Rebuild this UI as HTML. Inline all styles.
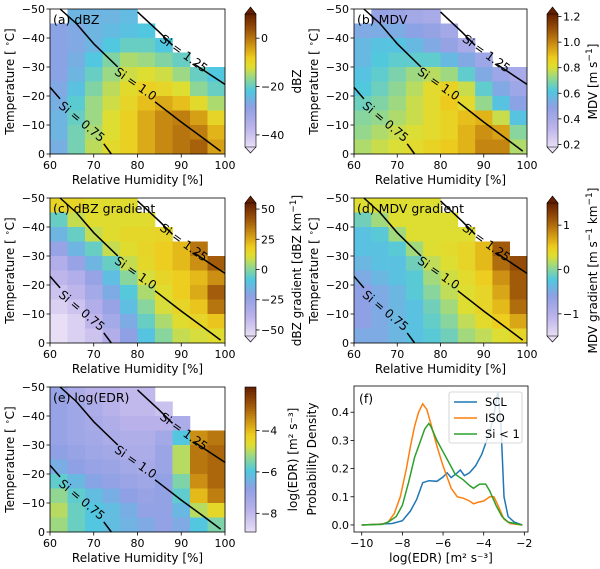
<!DOCTYPE html>
<html><head><meta charset="utf-8"><style>
body{margin:0;background:#fff}
svg{display:block;font-family:"DejaVu Sans","Liberation Sans",sans-serif}
</style></head><body>
<svg id="fig" width="600" height="569" viewBox="0 0 600 569" xmlns="http://www.w3.org/2000/svg"></svg>
<script>
// ---- data ----
const rhEdges = [60,64,68,72,76,80,84,88,92,96,100];
const tEdges = [-50,-45,-40,-35,-30,-25,-20,-15,-10,-5,0];
const dbzGrid = [
[null,-25,-25,-25,-24,null,null,null,null,null],
[-28,-27,-25,-24,-23,-22,null,null,null,null],
[-28,-27,-25,-22,-20,-20,-22,null,null,null],
[-28,-26,-22,-18,-15,-16,-18,-20,null,null],
[-28,-25,-20,-16,-13,-12,-13,-16,-20,-22],
[-27,-23,-18,-14,-11,-9,-10,-12,-17,-20],
[-26,-21,-16,-13,-10,-7,-5,-7,-11,-15],
[-25,-20,-16,-12,-9,-5,-2,-1,-4,-10],
[-25,-19,-15,-12,-9,-5,-2,0,-1,-6],
[-26,-19,-14,-11,-9,-5,-2,0,2,-4]];
const mdvGrid = [
[null,0.47,0.45,0.42,0.4,null,null,null,null,null],
[0.52,0.53,0.53,0.5,0.47,0.42,null,null,null,null],
[0.57,0.6,0.6,0.57,0.52,0.47,0.4,null,null,null],
[0.57,0.62,0.64,0.64,0.64,0.57,0.52,0.44,null,null],
[0.6,0.64,0.68,0.73,0.76,0.73,0.64,0.52,0.44,0.4],
[0.62,0.66,0.71,0.76,0.82,0.85,0.78,0.64,0.52,0.44],
[0.66,0.69,0.73,0.78,0.82,0.88,0.82,0.72,0.6,0.5],
[0.7,0.72,0.75,0.78,0.82,0.85,0.9,0.92,0.78,0.6],
[0.72,0.75,0.78,0.8,0.82,0.85,0.92,0.98,0.95,0.7],
[0.75,0.78,0.8,0.82,0.85,0.88,0.92,1.0,1.0,0.75]];
const dbzGradGrid = [
[15,15,12,12,12,null,null,null,null,null],
[-5,8,12,12,12,12,null,null,null,null],
[-15,-5,8,12,14,14,15,null,null,null],
[-25,-15,-5,8,12,15,18,22,35,null],
[-35,-25,-15,-5,8,14,18,22,30,40],
[-40,-35,-25,-12,0,10,15,18,22,30],
[-45,-40,-30,-18,-8,5,12,18,25,40],
[-50,-45,-35,-25,-12,0,10,15,20,35],
[-55,-50,-40,-30,-18,-5,5,12,15,20],
[-55,-50,-45,-35,-22,-10,0,8,10,12]];
const mdvGradGrid = [
[0.3,0.3,0.3,0.3,0.3,null,null,null,null,null],
[-0.1,0.1,0.3,0.3,0.3,0.3,null,null,null,null],
[-0.3,-0.2,0.1,0.3,0.3,0.3,0.3,null,null,null],
[-0.3,-0.3,-0.2,0.1,0.3,0.35,0.4,0.6,1.1,null],
[-0.4,-0.3,-0.3,-0.1,0.2,0.3,0.4,0.6,1.0,1.2],
[-0.5,-0.4,-0.3,-0.2,0.1,0.25,0.35,0.5,0.8,1.1],
[-0.6,-0.5,-0.4,-0.2,0.0,0.2,0.3,0.4,0.7,1.1],
[-0.6,-0.5,-0.4,-0.3,-0.1,0.1,0.3,0.4,0.6,1.0],
[-0.6,-0.5,-0.4,-0.3,-0.15,0.0,0.2,0.35,0.5,0.7],
[-0.5,-0.5,-0.4,-0.3,-0.2,-0.1,0.1,0.2,0.3,0.4]];
const edrGrid = [
[-7,-7.5,-7.8,-7.8,-8,-8,null,null,null,null],
[-7,-7.2,-7.5,-7.8,-8,-8,-8.2,null,null,null],
[-7,-7.2,-7.4,-7.6,-7.8,-7.8,-7.8,-7.5,null,null],
[-7,-7.2,-7.3,-7.5,-7.6,-7.6,-7.3,-6,-3.5,-3.2],
[-6.8,-7,-7.2,-7.3,-7.5,-7.5,-7.1,-5,-3.2,-3],
[-6.5,-6.8,-7,-7.1,-7.3,-7.4,-7.1,-5,-3.2,-3],
[-5.8,-6.3,-6.7,-6.9,-7.1,-7.2,-6.9,-5.5,-3.5,-3],
[-5.3,-5.8,-6.2,-6.5,-6.8,-7,-6.9,-5.8,-4,-3.3],
[-5,-5.7,-6,-6.2,-6.5,-6.9,-6.9,-6.3,-5,-4.5],
[-5.2,-5.7,-6,-6.2,-6.4,-6.6,-6.9,-6.6,-6,-5.5]];
// Si isolines (RH, T)
const si100a = [[62.3,-50],[66,-45],[70,-38],[75.5,-30]];
const si100b = [[84,-18],[90,-11],[95,-5.5],[99,-1]];
const si125a = [[80,-49],[85,-42],[88,-37.5]];
const si125b = [[93,-31],[97,-27],[100,-24]];
const si075a = [[60,-23],[62.3,-19]];
const si075b = [[72.3,-3.5],[74,0]];
// PDF panel (f)
const sclX = [-10,-8.5,-8,-7.6,-7.3,-7.0,-6.7,-6.3,-6.0,-5.8,-5.6,-5.3,-5.15,-4.95,-4.7,-4.4,-4.1,-3.9,-3.7,-3.5,-3.3,-3.15,-3.0,-2.8,-2.5,-2.1];
const sclY = [0,0.005,0.015,0.05,0.09,0.15,0.157,0.155,0.17,0.185,0.168,0.185,0.195,0.175,0.185,0.21,0.25,0.29,0.33,0.39,0.47,0.35,0.1,0.03,0.01,0];
const isoX = [-10,-9,-8.7,-8.4,-8.1,-7.8,-7.6,-7.4,-7.2,-7.0,-6.8,-6.6,-6.3,-6.0,-5.8,-5.6,-5.3,-5.0,-4.7,-4.5,-4.3,-4.0,-3.7,-3.5,-3.3,-3.0,-2.7,-2.1];
const isoY = [0,0.003,0.01,0.04,0.1,0.2,0.28,0.35,0.4,0.43,0.41,0.36,0.28,0.21,0.17,0.13,0.1,0.095,0.085,0.075,0.08,0.085,0.1,0.1,0.07,0.02,0.005,0];
const siX = [-10,-9,-8.7,-8.3,-8.0,-7.7,-7.4,-7.1,-6.9,-6.7,-6.6,-6.3,-6.0,-5.7,-5.4,-5.0,-4.7,-4.5,-4.2,-3.9,-3.7,-3.4,-3.1,-2.8,-2.1];
const siY = [0,0.002,0.01,0.03,0.07,0.15,0.24,0.3,0.34,0.36,0.35,0.3,0.26,0.22,0.18,0.16,0.14,0.13,0.145,0.145,0.12,0.07,0.03,0.01,0];
const pdfXTicks = [-10,-8,-6,-4,-2];
const pdfYTicks = [0.0,0.1,0.2,0.3,0.4];

// ---- helpers ----
const NS="http://www.w3.org/2000/svg";
const svg=document.getElementById('fig');
function mk(tag,attrs,parent){const e=document.createElementNS(NS,tag);for(const k in attrs)e.setAttribute(k,attrs[k]);(parent||svg).appendChild(e);return e;}
function txt(s,attrs,parent){const e=mk('text',attrs,parent);e.textContent=s;return e;}
const stops=[[0,[232,222,246]],[0.15,[186,178,234]],[0.3,[143,160,228]],[0.42,[80,200,224]],[0.52,[150,216,140]],[0.6,[222,222,50]],[0.67,[238,204,30]],[0.76,[208,150,20]],[0.87,[160,88,10]],[1,[100,30,0]]];
function cmap(t){t=Math.max(0,Math.min(1,t));for(let i=1;i<stops.length;i++){if(t<=stops[i][0]){const a=stops[i-1],b=stops[i];const f=(t-a[0])/(b[0]-a[0]);const c=a[1].map((v,j)=>Math.round(v+(b[1][j]-v)*f));return `rgb(${c[0]},${c[1]},${c[2]})`;}}return 'rgb(100,30,0)';}

function heatPanel(cfg){
  const {x0,y0,w,h,grid,vmin,vmax,label,name,cbx,cbTicks,cbLabel,arrows,fmt,cbOff}=cfg;
  const g=mk('g',{});
  
  
  const sx=v=>x0+(v-60)/40*w, sy=v=>y0+(v+50)/50*h;
  for(let r=0;r<grid.length;r++)for(let c=0;c<grid[r].length;c++){
    const v=grid[r][c]; if(v===null)continue;
    const cell=mk('rect',{x:sx(rhEdges[c]),y:sy(tEdges[r]),width:sx(rhEdges[c+1])-sx(rhEdges[c])+0.3,height:sy(tEdges[r+1])-sy(tEdges[r])+0.3,fill:cmap((v-vmin)/(vmax-vmin))},g);
    
    
  }
  const pl=pts=>pts.map(p=>sx(p[0]).toFixed(1)+','+sy(p[1]).toFixed(1)).join(' ');
  [si100a,si100b,si125a,si125b,si075a,si075b].forEach(s=>{const l=mk('polyline',{points:pl(s),fill:'none',stroke:'#000','stroke-width':1.5},g);});
  const labs=[['Si = 1.0',79.5,-24,35],['Si = 1.25',90.5,-34.5,36],['Si = 0.75',67.2,-11,40]];
  labs.forEach(L=>{const t=txt(L[0],{x:sx(L[1]),y:sy(L[2]),'font-size':12,'text-anchor':'middle','dominant-baseline':'middle',transform:`rotate(${L[3]} ${sx(L[1])} ${sy(L[2])})`},g);});
  const fr=mk('rect',{x:x0,y:y0,width:w,height:h,fill:'none',stroke:'#000','stroke-width':0.8},g);
  
  const pt=txt(label,{x:x0+3,y:y0+15,'font-size':12.5},g);
  
  [60,70,80,90,100].forEach(v=>{mk('line',{x1:sx(v),x2:sx(v),y1:y0+h,y2:y0+h+3.5,stroke:'#000','stroke-width':0.8},g);const t=txt(String(v),{x:sx(v),y:y0+h+15,'font-size':11,'text-anchor':'middle'},g);});
  [-50,-40,-30,-20,-10,0].forEach(v=>{mk('line',{x1:x0,x2:x0-3.5,y1:sy(v),y2:sy(v),stroke:'#000','stroke-width':0.8},g);const t=txt(v<0?'\u2212'+(-v):String(v),{x:x0-5,y:sy(v)+4,'font-size':11,'text-anchor':'end'},g);});
  const xl=txt('Relative Humidity [%]',{x:x0+w/2,y:y0+h+30,'font-size':12,'text-anchor':'middle'},g);
  
  const yl=mk('text',{x:0,y:0,'font-size':12,'text-anchor':'middle',transform:`translate(${x0-36} ${y0+h/2}) rotate(-90)`},g);
  yl.innerHTML='Temperature [ <tspan baseline-shift="super" font-size="8">\u2218</tspan>C]';
  
  // colorbar
  const cg=mk('g',{},g);
  
  const bt=y0+(arrows?5:0), bb=y0+h-(arrows?7:0), cw=11;
  const N=60;
  for(let i=0;i<N;i++){mk('rect',{x:cbx,y:bt+(bb-bt)*i/N,width:cw,height:(bb-bt)/N+0.5,fill:cmap(1-(i+0.5)/N)},cg);}
  if(arrows){
    mk('polygon',{points:`${cbx},${bt} ${cbx+cw/2},${y0-2} ${cbx+cw},${bt}`,fill:cmap(1),stroke:'#000','stroke-width':0.6},cg);
    mk('polygon',{points:`${cbx},${bb} ${cbx+cw/2},${y0+h-1} ${cbx+cw},${bb}`,fill:cmap(0),stroke:'#000','stroke-width':0.6},cg);
    mk('polyline',{points:`${cbx},${bt} ${cbx},${bb}`,stroke:'#000','stroke-width':0.6},cg);
    mk('polyline',{points:`${cbx+cw},${bt} ${cbx+cw},${bb}`,stroke:'#000','stroke-width':0.6},cg);
  } else mk('rect',{x:cbx,y:bt,width:cw,height:bb-bt,fill:'none',stroke:'#000','stroke-width':0.6},cg);
  const cy=v=>bb-(v-vmin)/(vmax-vmin)*(bb-bt);
  cbTicks.forEach(v=>{mk('line',{x1:cbx+cw,x2:cbx+cw+3.5,y1:cy(v),y2:cy(v),stroke:'#000','stroke-width':0.8},cg);const s=fmt?Math.abs(v).toFixed(fmt):String(Math.abs(v));const t=txt(v<0?'\u2212'+s:s,{x:cbx+cw+5,y:cy(v)+4,'font-size':11},cg);});
  const cl=mk('text',{x:0,y:0,'font-size':12,'text-anchor':'middle',transform:`translate(${cbx+cw+cbOff} ${y0+h/2}) rotate(-90)`},cg);
  cl.innerHTML=cbLabel;
  
}
heatPanel({x0:50,y0:9,w:175,h:145,grid:dbzGrid,vmin:-45,vmax:10,label:'(a) dBZ',name:'panel-a-dbz',cbx:245,cbTicks:[0,-20,-40],cbLabel:'dBZ',arrows:true,cbOff:45});
heatPanel({x0:354,y0:9,w:173,h:145,grid:mdvGrid,vmin:0.18,vmax:1.22,label:'(b) MDV',name:'panel-b-mdv',cbx:547,cbTicks:[0.2,0.4,0.6,0.8,1.0,1.2],fmt:1,cbLabel:'MDV [m s<tspan baseline-shift="super" font-size="9">\u22121</tspan>]',arrows:true,cbOff:39});
heatPanel({x0:50,y0:198,w:175,h:145,grid:dbzGradGrid,vmin:-55,vmax:55,label:'(c) dBZ gradient',name:'panel-c-dbz-gradient',cbx:245,cbTicks:[50,25,0,-25,-50],cbLabel:'dBZ gradient [dBZ km<tspan baseline-shift="super" font-size="9">\u22121</tspan>]',arrows:true,cbOff:45});
heatPanel({x0:354,y0:198,w:173,h:145,grid:mdvGradGrid,vmin:-1.5,vmax:1.5,label:'(d) MDV gradient',name:'panel-d-mdv-gradient',cbx:547,cbTicks:[1,0,-1],cbLabel:'MDV gradient [m s<tspan baseline-shift="super" font-size="9">\u22121</tspan> km<tspan baseline-shift="super" font-size="9">\u22121</tspan>]',arrows:true,cbOff:39});
heatPanel({x0:50,y0:387,w:175,h:145,grid:edrGrid,vmin:-8.9,vmax:-1.9,label:'(e) log(EDR)',name:'panel-e-edr',cbx:245,cbTicks:[-4,-6,-8],cbLabel:'log(EDR) [m\u00b2 s\u207b\u00b3]',arrows:false,cbOff:41});

// ---- panel f ----
(function(){
  const x0=354,y0=386,w=174,h=146,xmin=-10.38,xmax=-1.82,ymin=-0.025,ymax=0.493;
  const g=mk('g',{});
  
  
  const sx=v=>x0+(v-xmin)/(xmax-xmin)*w, sy=v=>y0+h-(v-ymin)/(ymax-ymin)*h;
  const series=[[sclX,sclY,'#1f77b4','scl-line'],[isoX,isoY,'#ff7f0e','iso-line'],[siX,siY,'#2ca02c','si-lt-1-line']];
  series.forEach(s=>{const l=mk('polyline',{points:s[0].map((x,i)=>sx(x).toFixed(1)+','+sy(s[1][i]).toFixed(1)).join(' '),fill:'none',stroke:s[2],'stroke-width':1.5},g);});
  const fr=mk('rect',{x:x0,y:y0,width:w,height:h,fill:'none',stroke:'#000','stroke-width':0.8},g);
  
  pdfXTicks.forEach(v=>{mk('line',{x1:sx(v),x2:sx(v),y1:y0+h,y2:y0+h+3.5,stroke:'#000','stroke-width':0.8},g);const t=txt('\u2212'+(-v),{x:sx(v),y:y0+h+15,'font-size':11,'text-anchor':'middle'},g);});
  pdfYTicks.forEach(v=>{mk('line',{x1:x0,x2:x0-3.5,y1:sy(v),y2:sy(v),stroke:'#000','stroke-width':0.8},g);const t=txt(v.toFixed(1),{x:x0-5,y:sy(v)+4,'font-size':11,'text-anchor':'end'},g);});
  const pt=txt('(f)',{x:x0+5,y:y0+17,'font-size':12.5},g);
  const xl=txt('log(EDR) [m\u00b2 s\u207b\u00b3]',{x:x0+w/2,y:y0+h+30,'font-size':12,'text-anchor':'middle'},g);
  const yl=txt('Probability Density',{x:0,y:0,'font-size':12,'text-anchor':'middle',transform:`translate(${x0-38} ${y0+h/2}) rotate(-90)`},g);
  const lg=mk('g',{},g);
  mk('rect',{x:449,y:392,width:73,height:51,rx:2,fill:'#fff','fill-opacity':0.8,stroke:'#ccc','stroke-width':0.8},lg);
  [['SCL','#1f77b4',402],['ISO','#ff7f0e',418],['Si < 1','#2ca02c',434]].forEach(e=>{const eg=mk('g',{},lg);mk('line',{x1:454,x2:477,y1:e[2],y2:e[2],stroke:e[1],'stroke-width':1.5},eg);txt(e[0],{x:485,y:e[2]+4,'font-size':11.5},eg);});
})();
</script>
</body></html>
